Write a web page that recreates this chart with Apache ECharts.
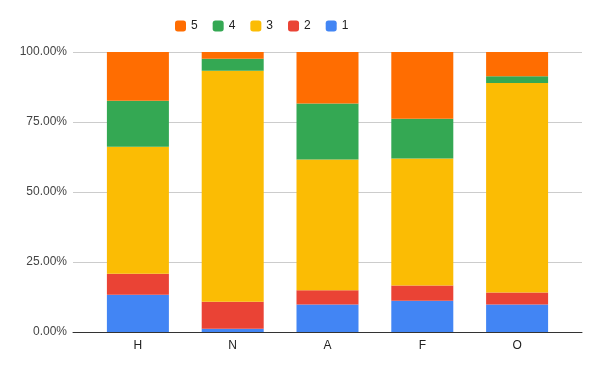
<!DOCTYPE html>
<html>
<head>
<meta charset="utf-8">
<script src="https://cdn.jsdelivr.net/npm/echarts@6/dist/echarts.min.js"></script>
<style>
  html, body { margin: 0; padding: 0; background: #fff; }
  #main { width: 600px; height: 371px; }
</style>
</head>
<body>
<div id="main"></div>
<script>
var categories = ["H", "N", "A", "F", "O"];
var seriesNames = ["1", "2", "3", "4", "5"];
var s1 = [13.3, 1.2, 9.8, 11.2, 9.8];
var s2 = [7.5, 9.6, 5.1, 5.4, 4.3];
var s3 = [45.4, 82.5, 46.7, 45.4, 74.8];
var s4 = [16.4, 4.3, 20.0, 14.2, 2.4];
var s5 = [17.4, 2.4, 18.4, 23.8, 8.7];
var colors = ["#4285F4", "#EA4335", "#FBBC04", "#34A853", "#FF6D01"];

var myChart = echarts.init(document.getElementById("main"));
var font = "'Liberation Sans', Arial, sans-serif";

function mk(name, vals, color) {
  return {
    name: name,
    type: "bar",
    stack: "total",
    barWidth: 62,
    xAxisIndex: 1,
    yAxisIndex: 1,
    itemStyle: { color: color },
    data: vals
  };
}

var option = {
  animation: false,
  textStyle: { fontFamily: font },
  legend: {
    data: ["5", "4", "3", "2", "1"],
    top: 15,
    left: 170,
    icon: "roundRect",
    itemWidth: 11,
    itemHeight: 11,
    itemGap: 15,
    textStyle: { fontSize: 12, color: "#222", fontFamily: font }
  },
  grid: [
    // background grid: gridlines + baseline span the full plot width
    { left: 73, right: 18, top: 52, bottom: 39 },
    // bar grid: category slots narrower than the gridlines
    { left: 90.5, right: 35.5, top: 52, bottom: 39 }
  ],
  xAxis: [
    {
      gridIndex: 0,
      type: "value",
      min: 0,
      max: 1,
      splitLine: { show: false },
      axisTick: { show: false },
      axisLabel: { show: false },
      axisLine: { show: true, lineStyle: { color: "#333", width: 1 } },
      z: 5
    },
    {
      gridIndex: 1,
      type: "category",
      data: categories,
      axisLine: { show: false },
      axisTick: { show: false },
      axisLabel: { margin: 8, fontSize: 12, color: "#222" }
    }
  ],
  yAxis: [
    {
      gridIndex: 0,
      type: "value",
      min: 0,
      max: 100,
      interval: 25,
      axisLine: { show: false },
      axisTick: { show: false },
      splitLine: { lineStyle: { color: "#ccc" } },
      axisLabel: {
        margin: 6,
        fontSize: 12,
        color: "#444",
        formatter: function (v) { return v.toFixed(2) + "%"; }
      }
    },
    {
      gridIndex: 1,
      type: "value",
      min: 0,
      max: 100,
      interval: 25,
      show: false
    }
  ],
  series: [
    mk(seriesNames[0], s1, colors[0]),
    mk(seriesNames[1], s2, colors[1]),
    mk(seriesNames[2], s3, colors[2]),
    mk(seriesNames[3], s4, colors[3]),
    mk(seriesNames[4], s5, colors[4])
  ]
};
myChart.setOption(option);
</script>
</body>
</html>
